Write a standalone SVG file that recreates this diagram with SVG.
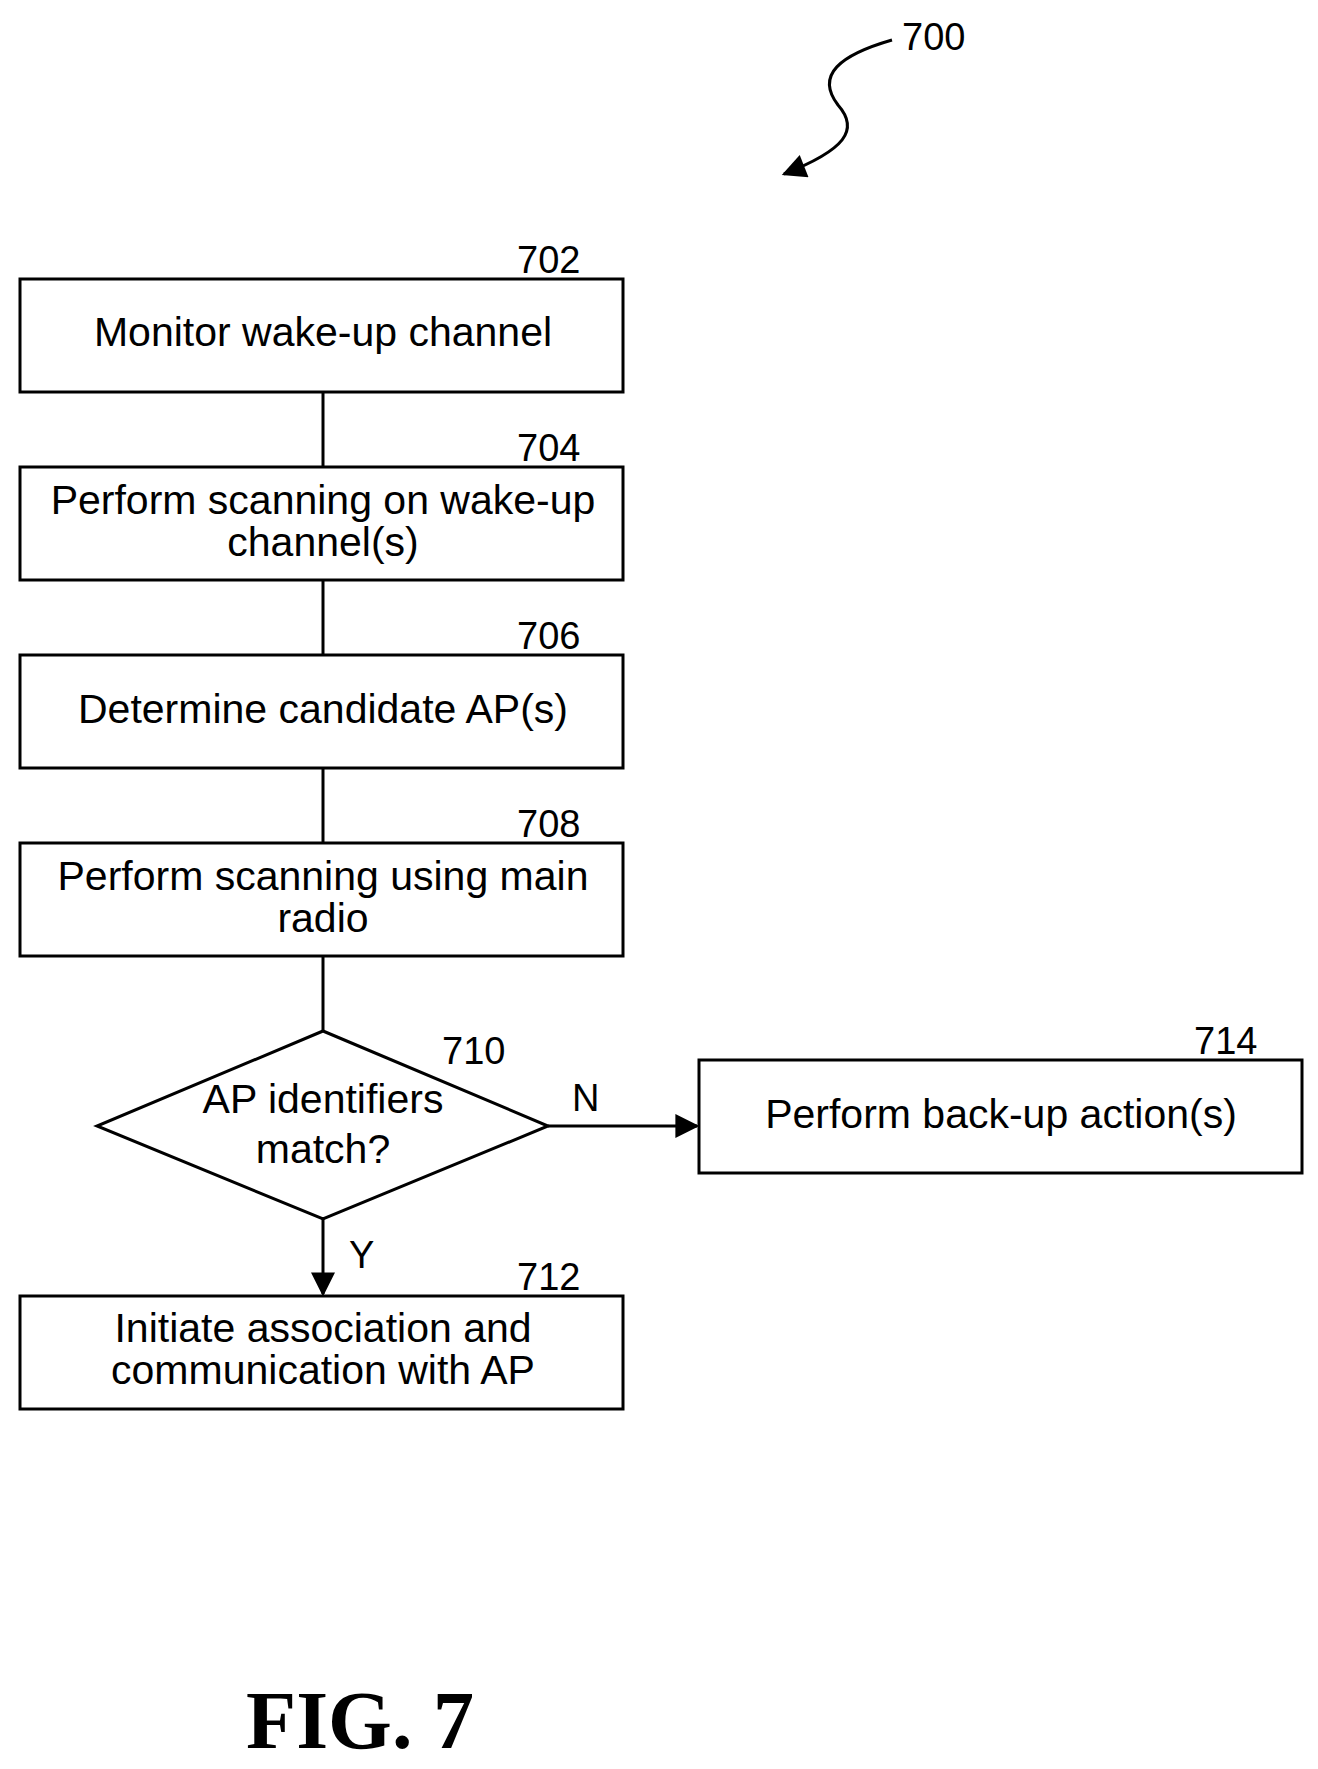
<svg xmlns="http://www.w3.org/2000/svg" width="1318" height="1769" viewBox="0 0 1318 1769">
<style>
.b{fill:#fff;stroke:#000;stroke-width:3}
.t{font-family:"Liberation Sans",Arial,sans-serif;font-size:41px;text-anchor:middle}
.n{font-family:"Liberation Sans",Arial,sans-serif;font-size:38px}
.c{stroke:#000;stroke-width:3;fill:none}
</style>
<defs>
<marker id="A" viewBox="0 0 10 10" refX="9" refY="5" markerWidth="28" markerHeight="24" orient="auto" markerUnits="userSpaceOnUse"><path d="M0,0L10,5L0,10z"/></marker></defs>
<rect width="1318" height="1769" fill="#fff"/>
<g id="connectors">
<line class="c" x1="323" y1="392" x2="323" y2="467"/>
<line class="c" x1="323" y1="580" x2="323" y2="655"/>
<line class="c" x1="323" y1="768" x2="323" y2="843"/>
<line class="c" x1="323" y1="956" x2="323" y2="1031"/>
<line class="c" x1="548" y1="1126" x2="697" y2="1126" marker-end="url(#A)"/>
<line class="c" x1="323" y1="1219" x2="323" y2="1294" marker-end="url(#A)"/>
<text class="n" x="572" y="1111">N</text>
<text class="n" x="349" y="1268">Y</text>
</g>
<g id="ref700"><text class="n" x="902" y="50">700</text>
<path class="c" d="M892,40 C840,55 815,75 838,105 C860,130 845,150 784,174" marker-end="url(#A)"/></g>
<g id="n702"><rect class="b" x="20" y="279" width="603" height="113"/><text class="t" x="323" y="346">Monitor wake-up channel</text><text class="n" x="517" y="273">702</text></g>
<g id="n704"><rect class="b" x="20" y="467" width="603" height="113"/><text class="t" x="323" y="514">Perform scanning on wake-up</text><text class="t" x="323" y="556">channel(s)</text><text class="n" x="517" y="461">704</text></g>
<g id="n706"><rect class="b" x="20" y="655" width="603" height="113"/><text class="t" x="323" y="723">Determine candidate AP(s)</text><text class="n" x="517" y="649">706</text></g>
<g id="n708"><rect class="b" x="20" y="843" width="603" height="113"/><text class="t" x="323" y="890">Perform scanning using main</text><text class="t" x="323" y="932">radio</text><text class="n" x="517" y="837">708</text></g>
<g id="n710"><polygon class="b" points="323,1031 548,1126 323,1219 97,1126"/><text class="t" x="323" y="1113">AP identifiers</text><text class="t" x="323" y="1163">match?</text><text class="n" x="442" y="1064">710</text></g>
<g id="n714"><rect class="b" x="699" y="1060" width="603" height="113"/><text class="t" x="1001" y="1128">Perform back-up action(s)</text><text class="n" x="1194" y="1054">714</text></g>
<g id="n712"><rect class="b" x="20" y="1296" width="603" height="113"/><text class="t" x="323" y="1342">Initiate association and</text><text class="t" x="323" y="1384">communication with AP</text><text class="n" x="517" y="1290">712</text></g>
<text x="360" y="1748" font-family="Liberation Serif,serif" font-weight="bold" font-size="82" text-anchor="middle">FIG. 7</text>
</svg>
